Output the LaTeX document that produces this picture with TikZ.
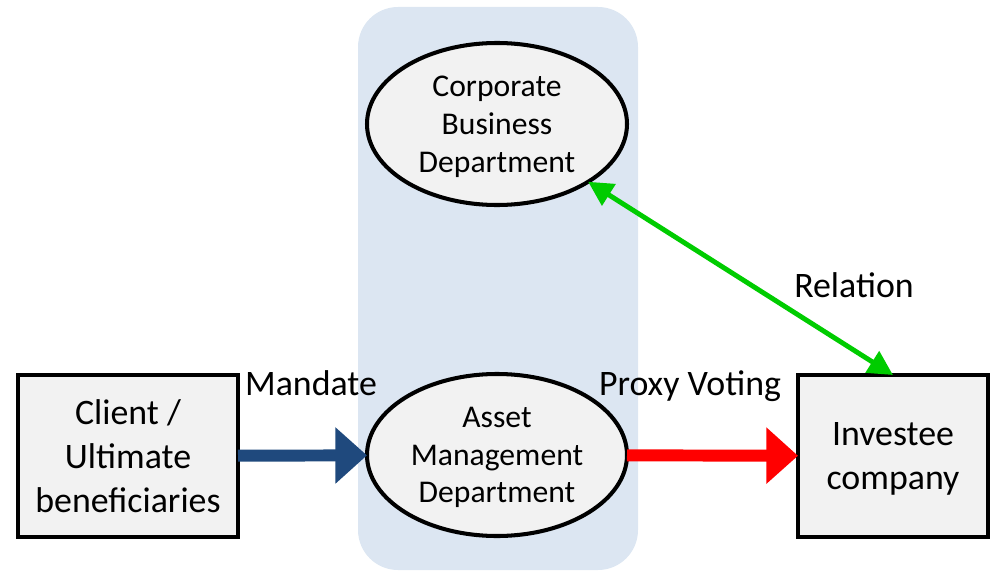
\documentclass[tikz,border=0pt]{standalone}
\usepackage{fontspec}
\setmainfont{Carlito}
\usetikzlibrary{arrows.meta,shapes.geometric}
\definecolor{deptbg}{HTML}{DCE6F2}
\definecolor{boxfill}{HTML}{F2F2F2}
\definecolor{mandateblue}{HTML}{1F497D}
\definecolor{relgreen}{HTML}{00CC00}

\begin{document}
\begin{tikzpicture}
          [dept/.style={shape=ellipse,draw=black,fill=boxfill,line width=2.3pt,minimum width=5.2cm,minimum height=3.24cm,inner sep=0pt,outer sep=0pt,align=center,text depth=-2pt,font=\fontsize{18pt}{21.5pt}\selectfont},
          party/.style={shape=rectangle,draw=black,fill=boxfill,line width=2.6pt,minimum height=3.24cm,inner sep=0pt,outer sep=0pt,align=center,font=\fontsize{20.4pt}{24.9pt}\selectfont},
          flow/.style={line width=6.8pt,-{Triangle[length=18pt,width=31pt]}},
          rel/.style={line width=2.8pt,relgreen,{Triangle[length=14pt,width=14pt]}-{Triangle[length=14pt,width=14pt]}},
          lbl/.style={anchor=base,font=\fontsize{20.4pt}{24.9pt}\selectfont}]

            \useasboundingbox (0,0) rectangle (19.8,11.42);
            \fill [deptbg, rounded corners=0.8cm] (7.16,0.02) rectangle (12.76,11.28);

            \node (cbd) [dept] at (9.94,8.94) {Corporate\\Business\\Department};
            \node (amd) [dept] at (9.94,2.32) {Asset\\Management\\Department};
            \node (cli) [party,minimum width=4.4cm] at (2.56,2.30) {Client /\\Ultimate\\beneficiaries};
            \node (inv) [party,minimum width=3.8cm,text depth=-2pt] at (17.86,2.30) {Investee\\company};

            \draw [flow,mandateblue] (cli) to (amd);
            \draw [flow,red] (amd) to (inv);
            \draw [rel] (cbd) to (inv.north);

            \node (mandate) [lbl] at (6.22,3.52) {Mandate};
            \node (proxy) [lbl] at (13.80,3.52) {Proxy Voting};
            \node (relation) [lbl] at (17.08,5.48) {Relation};

        \end{tikzpicture}
\end{document}
